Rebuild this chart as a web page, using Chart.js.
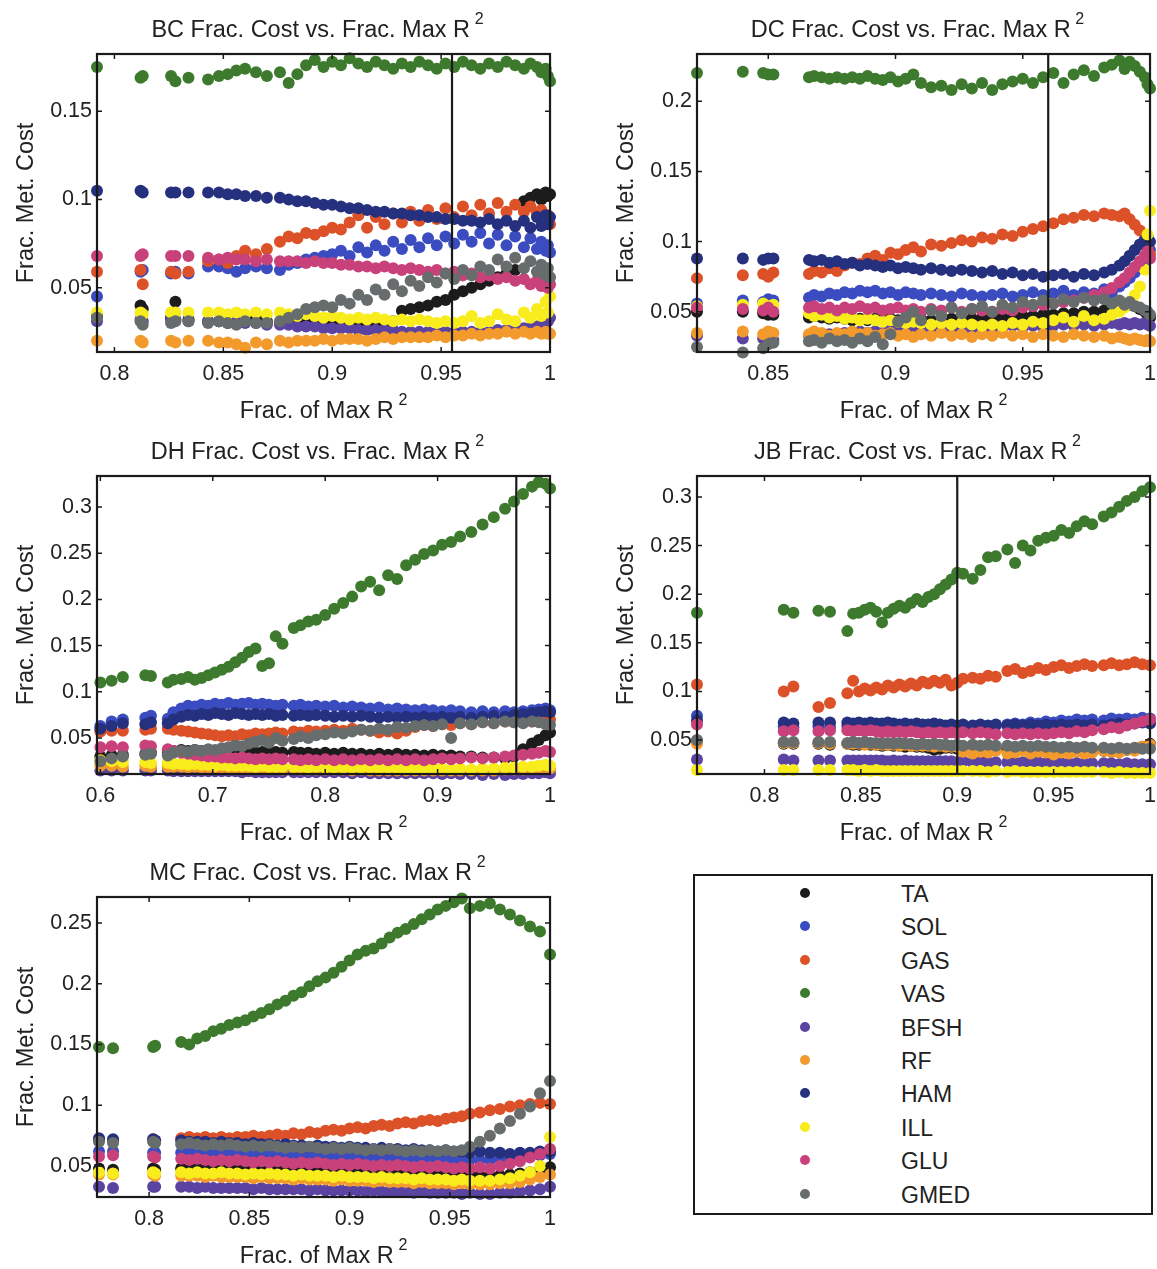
<!DOCTYPE html>
<html>
<head>
<meta charset="utf-8">
<title>Frac. Cost vs. Frac. Max R2</title>
<script src="https://cdn.jsdelivr.net/npm/chart.js@4.4.1/dist/chart.umd.min.js"></script>
<style>
    body { margin: 0; background: #fff; }
    #page {
        position: relative;
        width: 1157px;
        height: 1269px;
        overflow: hidden;
        font-family: "Liberation Sans", Arial, Helvetica, sans-serif;
        color: #222;
    }
    #page canvas { position: absolute; }
    .legend-box {
        position: absolute;
        left: 693px;
        top: 874px;
        width: 456px;
        height: 337px;
        border: 2px solid #1a1a1a;
        background: #fff;
    }
    .legend-dot {
        position: absolute;
        width: 10px;
        height: 10px;
        border-radius: 50%;
    }
    .legend-label {
        position: absolute;
        font-size: 23px;
        line-height: 23px;
        color: #222;
    }
</style>
</head>
<body>
<div id="page">
    <canvas id="bcChart"></canvas>
    <canvas id="dcChart"></canvas>
    <canvas id="dhChart"></canvas>
    <canvas id="jbChart"></canvas>
    <canvas id="mcChart"></canvas>
    <div class="legend-box" id="muscleLegend"></div>
</div>

<script>
// Muscles, in plotting order
const muscles = ['TA', 'SOL', 'GAS', 'VAS', 'BFSH', 'RF', 'HAM', 'ILL', 'GLU', 'GMED'];
const muscleColors = ['#1c1c1c', '#3a4cc0', '#dc5128', '#3d7a2e', '#5b43a2', '#f39a2c', '#25307e', '#f8ec1c', '#c9417a', '#676c6c'];

// ---- BC ----
const bcR2 = [0.792, 0.812, 0.813, 0.826, 0.828, 0.834, 0.843, 0.848, 0.852, 0.856, 0.860, 0.865, 0.870, 0.876, 0.880, 0.884, 0.888, 0.892, 0.896, 0.900, 0.904, 0.908, 0.912, 0.916, 0.920, 0.924, 0.928, 0.932, 0.936, 0.940, 0.944, 0.948, 0.952, 0.956, 0.960, 0.964, 0.968, 0.972, 0.976, 0.980, 0.984, 0.988, 0.991, 0.994, 0.996, 0.998, 0.999, 1.000];
const bcTA   = [0.034, 0.040, 0.038, 0.033, 0.042, 0.032, 0.031, 0.031, 0.031, 0.030, 0.032, 0.033, 0.031, 0.030, 0.030, 0.030, 0.030, 0.029, 0.029, 0.029, 0.029, 0.029, 0.029, 0.029, 0.030, 0.030, 0.031, 0.037, 0.038, 0.039, 0.040, 0.042, 0.043, 0.046, 0.048, 0.050, 0.052, 0.054, 0.056, 0.058, 0.060, 0.099, 0.101, 0.103, 0.100, 0.104, 0.102, 0.103];
const bcSOL  = [0.045, 0.059, 0.060, 0.058, 0.059, 0.058, 0.062, 0.062, 0.061, 0.059, 0.061, 0.062, 0.061, 0.060, 0.063, 0.064, 0.066, 0.067, 0.068, 0.069, 0.071, 0.068, 0.073, 0.070, 0.074, 0.071, 0.076, 0.072, 0.077, 0.073, 0.078, 0.074, 0.079, 0.075, 0.080, 0.076, 0.081, 0.075, 0.080, 0.074, 0.079, 0.073, 0.078, 0.072, 0.076, 0.071, 0.074, 0.070];
const bcGAS  = [0.059, 0.060, 0.052, 0.059, 0.058, 0.059, 0.065, 0.066, 0.064, 0.068, 0.071, 0.069, 0.072, 0.076, 0.079, 0.078, 0.081, 0.080, 0.082, 0.084, 0.083, 0.087, 0.091, 0.084, 0.090, 0.086, 0.092, 0.087, 0.093, 0.088, 0.094, 0.089, 0.095, 0.090, 0.096, 0.091, 0.097, 0.092, 0.098, 0.093, 0.097, 0.093, 0.096, 0.092, 0.094, 0.089, 0.091, 0.086];
const bcVAS  = [0.175, 0.169, 0.170, 0.170, 0.167, 0.169, 0.168, 0.170, 0.171, 0.173, 0.174, 0.172, 0.170, 0.172, 0.166, 0.171, 0.176, 0.179, 0.175, 0.178, 0.176, 0.180, 0.177, 0.175, 0.178, 0.176, 0.174, 0.177, 0.175, 0.178, 0.176, 0.174, 0.177, 0.175, 0.178, 0.176, 0.174, 0.177, 0.175, 0.178, 0.176, 0.174, 0.177, 0.175, 0.172, 0.174, 0.170, 0.167];
const bcBFSH = [0.031, 0.032, 0.031, 0.032, 0.032, 0.031, 0.031, 0.031, 0.030, 0.031, 0.030, 0.030, 0.029, 0.029, 0.029, 0.028, 0.028, 0.028, 0.027, 0.027, 0.027, 0.027, 0.026, 0.026, 0.026, 0.026, 0.026, 0.025, 0.025, 0.025, 0.025, 0.025, 0.025, 0.025, 0.025, 0.025, 0.025, 0.025, 0.026, 0.026, 0.026, 0.027, 0.027, 0.028, 0.029, 0.030, 0.031, 0.033];
const bcRF   = [0.020, 0.020, 0.019, 0.020, 0.019, 0.020, 0.020, 0.019, 0.019, 0.018, 0.016, 0.019, 0.018, 0.020, 0.019, 0.020, 0.020, 0.020, 0.021, 0.020, 0.021, 0.021, 0.021, 0.020, 0.021, 0.022, 0.021, 0.022, 0.022, 0.022, 0.022, 0.023, 0.022, 0.023, 0.023, 0.024, 0.023, 0.024, 0.024, 0.025, 0.024, 0.025, 0.024, 0.025, 0.024, 0.025, 0.024, 0.024];
const bcHAM  = [0.105, 0.105, 0.104, 0.104, 0.104, 0.104, 0.104, 0.104, 0.103, 0.103, 0.102, 0.102, 0.101, 0.101, 0.100, 0.099, 0.099, 0.098, 0.097, 0.097, 0.096, 0.095, 0.095, 0.094, 0.093, 0.093, 0.092, 0.092, 0.091, 0.091, 0.090, 0.090, 0.089, 0.089, 0.088, 0.088, 0.087, 0.089, 0.086, 0.088, 0.085, 0.088, 0.084, 0.090, 0.085, 0.091, 0.086, 0.090];
const bcILL  = [0.036, 0.036, 0.035, 0.036, 0.036, 0.036, 0.036, 0.036, 0.035, 0.036, 0.035, 0.036, 0.035, 0.036, 0.035, 0.034, 0.035, 0.034, 0.033, 0.034, 0.033, 0.032, 0.033, 0.032, 0.033, 0.032, 0.031, 0.032, 0.031, 0.032, 0.031, 0.030, 0.031, 0.030, 0.031, 0.034, 0.030, 0.031, 0.035, 0.032, 0.031, 0.036, 0.033, 0.038, 0.034, 0.042, 0.036, 0.045];
const bcGLU  = [0.068, 0.068, 0.069, 0.068, 0.068, 0.068, 0.067, 0.066, 0.067, 0.066, 0.066, 0.065, 0.066, 0.065, 0.065, 0.065, 0.064, 0.065, 0.064, 0.064, 0.063, 0.063, 0.062, 0.062, 0.061, 0.062, 0.061, 0.060, 0.061, 0.060, 0.059, 0.060, 0.058, 0.059, 0.057, 0.058, 0.056, 0.057, 0.055, 0.056, 0.054, 0.055, 0.052, 0.054, 0.051, 0.053, 0.050, 0.052];
const bcGMED = [0.033, 0.031, 0.029, 0.030, 0.031, 0.031, 0.030, 0.031, 0.030, 0.029, 0.031, 0.030, 0.030, 0.031, 0.033, 0.035, 0.038, 0.039, 0.040, 0.039, 0.043, 0.041, 0.046, 0.043, 0.049, 0.046, 0.052, 0.048, 0.054, 0.051, 0.056, 0.053, 0.058, 0.055, 0.060, 0.057, 0.062, 0.060, 0.066, 0.062, 0.067, 0.061, 0.065, 0.059, 0.063, 0.057, 0.061, 0.056];
const bcXTicks = [0.8, 0.85, 0.9, 0.95, 1];
const bcYTicks = [0.05, 0.1, 0.15];

// ---- DC ----
const dcR2 = [0.822, 0.840, 0.848, 0.850, 0.852, 0.866, 0.868, 0.871, 0.874, 0.877, 0.880, 0.883, 0.886, 0.889, 0.892, 0.895, 0.898, 0.901, 0.904, 0.907, 0.910, 0.914, 0.918, 0.922, 0.926, 0.930, 0.934, 0.938, 0.942, 0.946, 0.950, 0.954, 0.958, 0.962, 0.966, 0.970, 0.974, 0.978, 0.982, 0.985, 0.988, 0.990, 0.992, 0.994, 0.996, 0.998, 0.999, 1.000];
const dcTA   = [0.050, 0.050, 0.049, 0.048, 0.048, 0.046, 0.047, 0.046, 0.045, 0.046, 0.045, 0.044, 0.045, 0.044, 0.045, 0.044, 0.045, 0.044, 0.045, 0.044, 0.045, 0.044, 0.045, 0.045, 0.044, 0.045, 0.046, 0.045, 0.046, 0.046, 0.047, 0.047, 0.048, 0.048, 0.049, 0.049, 0.050, 0.050, 0.051, 0.052, 0.053, 0.054, 0.055, 0.054, 0.052, 0.050, 0.048, 0.046];
const dcSOL  = [0.056, 0.058, 0.057, 0.059, 0.058, 0.060, 0.062, 0.061, 0.063, 0.062, 0.064, 0.063, 0.065, 0.064, 0.065, 0.063, 0.064, 0.062, 0.064, 0.063, 0.062, 0.063, 0.062, 0.061, 0.063, 0.062, 0.061, 0.062, 0.063, 0.061, 0.062, 0.064, 0.062, 0.063, 0.065, 0.062, 0.064, 0.063, 0.066, 0.064, 0.068, 0.071, 0.074, 0.078, 0.082, 0.086, 0.090, 0.094];
const dcGAS  = [0.074, 0.076, 0.077, 0.075, 0.078, 0.077, 0.079, 0.078, 0.081, 0.079, 0.083, 0.085, 0.084, 0.088, 0.090, 0.087, 0.092, 0.091, 0.094, 0.096, 0.093, 0.098, 0.097, 0.099, 0.101, 0.100, 0.103, 0.102, 0.105, 0.104, 0.107, 0.109, 0.111, 0.113, 0.116, 0.117, 0.119, 0.118, 0.120, 0.119, 0.118, 0.120, 0.116, 0.112, 0.108, 0.102, 0.096, 0.091];
const dcVAS  = [0.220, 0.221, 0.220, 0.219, 0.219, 0.217, 0.218, 0.217, 0.216, 0.217, 0.216, 0.217, 0.216, 0.218, 0.216, 0.215, 0.217, 0.214, 0.216, 0.219, 0.213, 0.210, 0.211, 0.208, 0.212, 0.209, 0.213, 0.208, 0.212, 0.214, 0.216, 0.213, 0.217, 0.220, 0.213, 0.219, 0.222, 0.218, 0.224, 0.226, 0.229, 0.223, 0.228, 0.225, 0.221, 0.217, 0.212, 0.209];
const dcBFSH = [0.033, 0.031, 0.031, 0.032, 0.030, 0.033, 0.034, 0.032, 0.034, 0.033, 0.035, 0.034, 0.036, 0.035, 0.036, 0.035, 0.037, 0.036, 0.037, 0.036, 0.038, 0.037, 0.038, 0.037, 0.039, 0.038, 0.039, 0.038, 0.039, 0.040, 0.039, 0.040, 0.039, 0.040, 0.041, 0.040, 0.041, 0.040, 0.041, 0.042, 0.041, 0.042, 0.041, 0.042, 0.041, 0.042, 0.041, 0.040];
const dcRF   = [0.035, 0.036, 0.034, 0.036, 0.035, 0.034, 0.036, 0.035, 0.033, 0.035, 0.034, 0.036, 0.034, 0.035, 0.033, 0.034, 0.035, 0.033, 0.034, 0.032, 0.034, 0.033, 0.035, 0.033, 0.034, 0.032, 0.034, 0.033, 0.035, 0.033, 0.034, 0.032, 0.034, 0.033, 0.032, 0.034, 0.033, 0.032, 0.033, 0.031, 0.032, 0.031, 0.030, 0.031, 0.030, 0.029, 0.030, 0.029];
const dcHAM  = [0.088, 0.088, 0.087, 0.088, 0.088, 0.087, 0.086, 0.087, 0.085, 0.086, 0.084, 0.085, 0.083, 0.084, 0.083, 0.082, 0.083, 0.081, 0.082, 0.081, 0.080, 0.081, 0.080, 0.079, 0.080, 0.079, 0.078, 0.079, 0.077, 0.078, 0.076, 0.077, 0.075, 0.076, 0.077, 0.075, 0.077, 0.076, 0.078, 0.080, 0.083, 0.086, 0.090, 0.094, 0.098, 0.101, 0.104, 0.100];
const dcILL  = [0.054, 0.055, 0.056, 0.054, 0.055, 0.049, 0.047, 0.048, 0.046, 0.047, 0.045, 0.046, 0.044, 0.045, 0.044, 0.043, 0.044, 0.043, 0.042, 0.043, 0.042, 0.041, 0.042, 0.041, 0.042, 0.041, 0.040, 0.041, 0.040, 0.042, 0.041, 0.043, 0.042, 0.044, 0.046, 0.043, 0.047, 0.044, 0.045, 0.048, 0.050, 0.053, 0.057, 0.062, 0.068, 0.080, 0.105, 0.122];
const dcGLU  = [0.053, 0.052, 0.051, 0.053, 0.050, 0.053, 0.054, 0.052, 0.053, 0.051, 0.053, 0.052, 0.054, 0.052, 0.053, 0.051, 0.052, 0.053, 0.051, 0.052, 0.050, 0.052, 0.051, 0.053, 0.050, 0.052, 0.051, 0.050, 0.052, 0.051, 0.053, 0.054, 0.055, 0.056, 0.057, 0.058, 0.060, 0.062, 0.064, 0.067, 0.071, 0.074, 0.078, 0.082, 0.086, 0.090, 0.093, 0.088];
const dcGMED = [0.025, 0.021, 0.024, 0.027, 0.028, 0.029, 0.030, 0.028, 0.031, 0.029, 0.030, 0.028, 0.031, 0.029, 0.032, 0.027, 0.034, 0.043, 0.046, 0.050, 0.044, 0.051, 0.047, 0.053, 0.049, 0.052, 0.054, 0.050, 0.055, 0.053, 0.057, 0.055, 0.058, 0.056, 0.059, 0.057, 0.060, 0.058, 0.059, 0.056, 0.058, 0.055, 0.057, 0.054, 0.053, 0.051, 0.050, 0.048];
const dcXTicks = [0.85, 0.9, 0.95, 1];
const dcYTicks = [0.05, 0.1, 0.15, 0.2];

// ---- DH ----
const dhR2 = [0.600, 0.610, 0.620, 0.640, 0.645, 0.660, 0.665, 0.672, 0.678, 0.684, 0.690, 0.696, 0.702, 0.708, 0.714, 0.720, 0.726, 0.732, 0.738, 0.744, 0.750, 0.756, 0.762, 0.772, 0.778, 0.785, 0.792, 0.800, 0.808, 0.816, 0.824, 0.832, 0.840, 0.848, 0.856, 0.864, 0.872, 0.880, 0.888, 0.896, 0.904, 0.912, 0.920, 0.930, 0.940, 0.950, 0.960, 0.968, 0.976, 0.984, 0.990, 0.996, 1.000];
const dhTA   = [0.030, 0.031, 0.032, 0.033, 0.034, 0.035, 0.036, 0.037, 0.036, 0.037, 0.036, 0.036, 0.035, 0.036, 0.035, 0.035, 0.036, 0.035, 0.034, 0.035, 0.034, 0.035, 0.034, 0.035, 0.034, 0.034, 0.033, 0.034, 0.033, 0.034, 0.033, 0.033, 0.032, 0.033, 0.032, 0.033, 0.032, 0.032, 0.031, 0.032, 0.031, 0.031, 0.030, 0.030, 0.029, 0.029, 0.028, 0.030, 0.038, 0.044, 0.048, 0.053, 0.056];
const dhSOL  = [0.063, 0.068, 0.070, 0.072, 0.074, 0.071, 0.078, 0.082, 0.085, 0.084, 0.086, 0.085, 0.087, 0.086, 0.088, 0.086, 0.087, 0.088, 0.086, 0.087, 0.086, 0.085, 0.086, 0.085, 0.086, 0.084, 0.085, 0.084, 0.085, 0.083, 0.084, 0.083, 0.082, 0.083, 0.081, 0.082, 0.081, 0.080, 0.081, 0.080, 0.079, 0.080, 0.079, 0.078, 0.079, 0.078, 0.079, 0.078, 0.079, 0.080, 0.081, 0.082, 0.080];
const dhGAS  = [0.057, 0.058, 0.058, 0.059, 0.060, 0.060, 0.059, 0.058, 0.057, 0.056, 0.055, 0.054, 0.053, 0.052, 0.053, 0.052, 0.054, 0.053, 0.055, 0.054, 0.055, 0.056, 0.055, 0.057, 0.056, 0.058, 0.057, 0.058, 0.059, 0.058, 0.060, 0.059, 0.058, 0.056, 0.057, 0.055, 0.058, 0.062, 0.064, 0.063, 0.065, 0.064, 0.066, 0.065, 0.067, 0.066, 0.068, 0.067, 0.069, 0.068, 0.070, 0.069, 0.070];
const dhVAS  = [0.110, 0.112, 0.116, 0.118, 0.117, 0.110, 0.113, 0.114, 0.116, 0.113, 0.115, 0.118, 0.121, 0.124, 0.127, 0.132, 0.137, 0.143, 0.147, 0.128, 0.131, 0.160, 0.152, 0.169, 0.172, 0.176, 0.178, 0.183, 0.190, 0.196, 0.203, 0.214, 0.219, 0.210, 0.226, 0.222, 0.237, 0.243, 0.249, 0.253, 0.259, 0.262, 0.268, 0.273, 0.281, 0.289, 0.298, 0.306, 0.314, 0.322, 0.327, 0.325, 0.320];
const dhBFSH = [0.015, 0.015, 0.015, 0.015, 0.015, 0.015, 0.014, 0.014, 0.014, 0.014, 0.014, 0.014, 0.014, 0.014, 0.014, 0.014, 0.013, 0.014, 0.013, 0.013, 0.013, 0.013, 0.013, 0.013, 0.013, 0.013, 0.013, 0.013, 0.013, 0.013, 0.012, 0.013, 0.012, 0.012, 0.012, 0.012, 0.012, 0.012, 0.012, 0.012, 0.011, 0.012, 0.011, 0.011, 0.010, 0.011, 0.010, 0.011, 0.011, 0.012, 0.012, 0.013, 0.012];
const dhRF   = [0.020, 0.020, 0.019, 0.020, 0.019, 0.019, 0.019, 0.019, 0.018, 0.019, 0.018, 0.018, 0.018, 0.018, 0.018, 0.017, 0.018, 0.017, 0.017, 0.017, 0.017, 0.017, 0.016, 0.017, 0.016, 0.016, 0.016, 0.016, 0.016, 0.016, 0.015, 0.016, 0.015, 0.015, 0.015, 0.015, 0.015, 0.015, 0.015, 0.015, 0.015, 0.015, 0.015, 0.015, 0.015, 0.015, 0.016, 0.016, 0.016, 0.017, 0.017, 0.018, 0.017];
const dhHAM  = [0.060, 0.063, 0.066, 0.065, 0.067, 0.066, 0.070, 0.073, 0.075, 0.074, 0.076, 0.075, 0.077, 0.076, 0.075, 0.077, 0.076, 0.075, 0.076, 0.075, 0.076, 0.074, 0.075, 0.074, 0.075, 0.074, 0.075, 0.074, 0.073, 0.074, 0.073, 0.074, 0.073, 0.072, 0.073, 0.072, 0.073, 0.072, 0.073, 0.072, 0.073, 0.072, 0.073, 0.072, 0.073, 0.074, 0.073, 0.075, 0.076, 0.077, 0.078, 0.079, 0.078];
const dhILL  = [0.026, 0.025, 0.024, 0.024, 0.023, 0.023, 0.022, 0.022, 0.021, 0.022, 0.021, 0.021, 0.020, 0.021, 0.020, 0.020, 0.020, 0.020, 0.019, 0.020, 0.019, 0.019, 0.019, 0.019, 0.019, 0.018, 0.019, 0.018, 0.018, 0.018, 0.018, 0.018, 0.018, 0.017, 0.018, 0.017, 0.017, 0.017, 0.017, 0.017, 0.017, 0.016, 0.017, 0.016, 0.017, 0.017, 0.018, 0.018, 0.019, 0.019, 0.020, 0.021, 0.020];
const dhGLU  = [0.040, 0.041, 0.040, 0.042, 0.041, 0.038, 0.036, 0.034, 0.033, 0.032, 0.031, 0.030, 0.030, 0.029, 0.029, 0.028, 0.029, 0.028, 0.027, 0.028, 0.027, 0.028, 0.027, 0.027, 0.026, 0.027, 0.026, 0.027, 0.026, 0.027, 0.026, 0.027, 0.026, 0.027, 0.026, 0.027, 0.026, 0.027, 0.026, 0.027, 0.028, 0.027, 0.028, 0.029, 0.028, 0.029, 0.030, 0.031, 0.032, 0.033, 0.034, 0.036, 0.035];
const dhGMED = [0.025, 0.028, 0.030, 0.032, 0.033, 0.031, 0.034, 0.036, 0.035, 0.037, 0.036, 0.038, 0.037, 0.039, 0.040, 0.042, 0.041, 0.044, 0.046, 0.048, 0.045, 0.050, 0.047, 0.049, 0.052, 0.050, 0.053, 0.054, 0.056, 0.055, 0.057, 0.059, 0.058, 0.060, 0.059, 0.062, 0.061, 0.063, 0.064, 0.063, 0.065, 0.050, 0.066, 0.065, 0.067, 0.066, 0.068, 0.067, 0.066, 0.068, 0.067, 0.065, 0.064];
const dhXTicks = [0.6, 0.7, 0.8, 0.9, 1];
const dhYTicks = [0.05, 0.1, 0.15, 0.2, 0.25, 0.3];

// ---- JB ----
const jbR2 = [0.765, 0.810, 0.815, 0.828, 0.834, 0.843, 0.846, 0.849, 0.852, 0.855, 0.858, 0.861, 0.864, 0.867, 0.870, 0.873, 0.876, 0.879, 0.882, 0.885, 0.888, 0.891, 0.894, 0.897, 0.900, 0.903, 0.908, 0.912, 0.916, 0.920, 0.926, 0.930, 0.934, 0.938, 0.942, 0.946, 0.950, 0.954, 0.958, 0.962, 0.966, 0.970, 0.976, 0.980, 0.984, 0.988, 0.992, 0.996, 1.000];
const jbTA   = [0.049, 0.046, 0.046, 0.046, 0.045, 0.046, 0.045, 0.045, 0.046, 0.045, 0.045, 0.044, 0.045, 0.044, 0.044, 0.043, 0.044, 0.043, 0.043, 0.042, 0.040, 0.041, 0.042, 0.042, 0.041, 0.041, 0.040, 0.041, 0.040, 0.041, 0.040, 0.039, 0.040, 0.039, 0.038, 0.039, 0.038, 0.039, 0.037, 0.038, 0.039, 0.038, 0.039, 0.038, 0.039, 0.040, 0.041, 0.043, 0.046];
const jbSOL  = [0.075, 0.064, 0.063, 0.064, 0.063, 0.064, 0.063, 0.064, 0.063, 0.062, 0.063, 0.062, 0.063, 0.062, 0.063, 0.062, 0.061, 0.062, 0.061, 0.062, 0.061, 0.062, 0.061, 0.062, 0.061, 0.062, 0.063, 0.064, 0.063, 0.065, 0.066, 0.067, 0.066, 0.068, 0.067, 0.069, 0.068, 0.070, 0.069, 0.071, 0.070, 0.071, 0.070, 0.072, 0.071, 0.072, 0.071, 0.073, 0.072];
const jbGAS  = [0.107, 0.100, 0.105, 0.084, 0.088, 0.098, 0.111, 0.100, 0.103, 0.101, 0.104, 0.102, 0.106, 0.104, 0.107, 0.105, 0.108, 0.106, 0.110, 0.108, 0.111, 0.109, 0.112, 0.106, 0.109, 0.113, 0.114, 0.113, 0.116, 0.115, 0.121, 0.123, 0.119, 0.121, 0.124, 0.122, 0.125, 0.127, 0.124, 0.126, 0.128, 0.126, 0.127, 0.129, 0.127, 0.128, 0.130, 0.128, 0.127];
const jbVAS  = [0.181, 0.184, 0.181, 0.183, 0.182, 0.162, 0.180, 0.181, 0.184, 0.186, 0.182, 0.171, 0.181, 0.185, 0.188, 0.186, 0.191, 0.195, 0.192, 0.197, 0.200, 0.205, 0.210, 0.215, 0.222, 0.221, 0.216, 0.225, 0.238, 0.239, 0.246, 0.232, 0.250, 0.245, 0.255, 0.258, 0.260, 0.266, 0.263, 0.270, 0.275, 0.272, 0.280, 0.284, 0.290, 0.296, 0.300, 0.306, 0.310];
const jbBFSH = [0.030, 0.030, 0.029, 0.029, 0.029, 0.029, 0.029, 0.029, 0.029, 0.029, 0.029, 0.029, 0.028, 0.029, 0.028, 0.029, 0.028, 0.028, 0.028, 0.028, 0.028, 0.028, 0.028, 0.028, 0.027, 0.028, 0.027, 0.028, 0.027, 0.027, 0.027, 0.027, 0.027, 0.027, 0.027, 0.026, 0.027, 0.026, 0.026, 0.026, 0.026, 0.026, 0.026, 0.026, 0.025, 0.026, 0.025, 0.025, 0.025];
const jbRF   = [0.046, 0.047, 0.047, 0.047, 0.046, 0.046, 0.046, 0.046, 0.045, 0.046, 0.045, 0.045, 0.045, 0.045, 0.044, 0.045, 0.044, 0.044, 0.044, 0.044, 0.043, 0.044, 0.043, 0.043, 0.043, 0.038, 0.036, 0.038, 0.037, 0.039, 0.036, 0.037, 0.039, 0.036, 0.038, 0.037, 0.035, 0.037, 0.036, 0.038, 0.036, 0.037, 0.039, 0.038, 0.037, 0.040, 0.039, 0.043, 0.045];
const jbHAM  = [0.070, 0.068, 0.067, 0.068, 0.068, 0.068, 0.067, 0.068, 0.067, 0.068, 0.067, 0.067, 0.068, 0.067, 0.066, 0.067, 0.066, 0.067, 0.066, 0.066, 0.067, 0.066, 0.065, 0.066, 0.065, 0.066, 0.065, 0.066, 0.065, 0.066, 0.065, 0.066, 0.065, 0.066, 0.065, 0.066, 0.065, 0.066, 0.065, 0.066, 0.065, 0.066, 0.065, 0.066, 0.067, 0.066, 0.067, 0.068, 0.067];
const jbILL  = [0.019, 0.019, 0.019, 0.019, 0.019, 0.019, 0.019, 0.018, 0.019, 0.018, 0.019, 0.018, 0.018, 0.018, 0.018, 0.018, 0.018, 0.018, 0.018, 0.018, 0.018, 0.018, 0.018, 0.018, 0.018, 0.018, 0.018, 0.018, 0.017, 0.018, 0.017, 0.018, 0.017, 0.017, 0.017, 0.017, 0.017, 0.017, 0.017, 0.017, 0.017, 0.017, 0.017, 0.016, 0.017, 0.016, 0.016, 0.016, 0.016];
const jbGLU  = [0.066, 0.059, 0.060, 0.059, 0.060, 0.060, 0.059, 0.060, 0.059, 0.060, 0.059, 0.058, 0.059, 0.058, 0.059, 0.058, 0.059, 0.058, 0.057, 0.058, 0.057, 0.058, 0.057, 0.058, 0.057, 0.058, 0.057, 0.058, 0.057, 0.056, 0.057, 0.056, 0.057, 0.056, 0.057, 0.056, 0.057, 0.058, 0.057, 0.059, 0.058, 0.060, 0.061, 0.063, 0.062, 0.065, 0.067, 0.069, 0.071];
const jbGMED = [0.050, 0.048, 0.048, 0.048, 0.048, 0.047, 0.048, 0.047, 0.048, 0.047, 0.047, 0.046, 0.047, 0.046, 0.047, 0.046, 0.046, 0.045, 0.046, 0.045, 0.046, 0.045, 0.045, 0.044, 0.045, 0.044, 0.045, 0.044, 0.045, 0.044, 0.044, 0.043, 0.044, 0.043, 0.044, 0.043, 0.043, 0.042, 0.043, 0.042, 0.043, 0.042, 0.042, 0.041, 0.042, 0.041, 0.042, 0.041, 0.041];
const jbXTicks = [0.8, 0.85, 0.9, 0.95, 1];
const jbYTicks = [0.05, 0.1, 0.15, 0.2, 0.25, 0.3];

// ---- MC ----
const mcR2 = [0.775, 0.782, 0.802, 0.803, 0.816, 0.820, 0.824, 0.828, 0.832, 0.836, 0.840, 0.844, 0.848, 0.852, 0.856, 0.860, 0.864, 0.868, 0.872, 0.876, 0.880, 0.884, 0.888, 0.892, 0.896, 0.900, 0.904, 0.908, 0.912, 0.916, 0.920, 0.924, 0.928, 0.932, 0.936, 0.940, 0.944, 0.948, 0.952, 0.956, 0.960, 0.965, 0.970, 0.975, 0.980, 0.985, 0.990, 0.995, 1.000];
const mcTA   = [0.048, 0.047, 0.048, 0.047, 0.048, 0.047, 0.048, 0.047, 0.047, 0.048, 0.047, 0.047, 0.047, 0.046, 0.047, 0.046, 0.047, 0.046, 0.046, 0.046, 0.046, 0.045, 0.046, 0.045, 0.045, 0.045, 0.045, 0.044, 0.045, 0.044, 0.044, 0.044, 0.044, 0.043, 0.044, 0.043, 0.043, 0.043, 0.043, 0.042, 0.043, 0.042, 0.042, 0.042, 0.043, 0.044, 0.045, 0.047, 0.049];
const mcSOL  = [0.062, 0.062, 0.061, 0.061, 0.061, 0.061, 0.060, 0.061, 0.060, 0.060, 0.060, 0.060, 0.059, 0.060, 0.059, 0.059, 0.059, 0.059, 0.058, 0.059, 0.058, 0.058, 0.058, 0.058, 0.057, 0.058, 0.057, 0.057, 0.057, 0.057, 0.056, 0.057, 0.056, 0.056, 0.056, 0.056, 0.055, 0.056, 0.055, 0.055, 0.055, 0.055, 0.055, 0.056, 0.056, 0.057, 0.058, 0.059, 0.060];
const mcGAS  = [0.072, 0.071, 0.072, 0.071, 0.073, 0.074, 0.073, 0.074, 0.073, 0.074, 0.073, 0.074, 0.074, 0.075, 0.074, 0.075, 0.076, 0.075, 0.077, 0.076, 0.078, 0.077, 0.079, 0.080, 0.079, 0.081, 0.082, 0.081, 0.083, 0.084, 0.083, 0.085, 0.086, 0.085, 0.087, 0.088, 0.087, 0.089, 0.090, 0.091, 0.093, 0.094, 0.096, 0.097, 0.099, 0.100, 0.101, 0.102, 0.101];
const mcVAS  = [0.148, 0.147, 0.148, 0.149, 0.152, 0.150, 0.155, 0.157, 0.161, 0.163, 0.166, 0.168, 0.170, 0.173, 0.176, 0.179, 0.183, 0.186, 0.190, 0.193, 0.198, 0.202, 0.205, 0.209, 0.214, 0.219, 0.224, 0.227, 0.229, 0.233, 0.238, 0.242, 0.245, 0.249, 0.253, 0.257, 0.261, 0.264, 0.267, 0.270, 0.262, 0.264, 0.266, 0.261, 0.257, 0.252, 0.247, 0.243, 0.224];
const mcBFSH = [0.033, 0.032, 0.033, 0.033, 0.033, 0.033, 0.032, 0.033, 0.032, 0.032, 0.032, 0.032, 0.032, 0.031, 0.032, 0.031, 0.031, 0.031, 0.031, 0.031, 0.030, 0.031, 0.030, 0.030, 0.030, 0.030, 0.030, 0.029, 0.030, 0.029, 0.029, 0.029, 0.029, 0.028, 0.029, 0.028, 0.028, 0.028, 0.028, 0.027, 0.028, 0.027, 0.027, 0.028, 0.028, 0.029, 0.030, 0.031, 0.033];
const mcRF   = [0.043, 0.043, 0.043, 0.042, 0.042, 0.042, 0.042, 0.041, 0.042, 0.041, 0.041, 0.041, 0.041, 0.040, 0.041, 0.040, 0.040, 0.040, 0.039, 0.040, 0.039, 0.039, 0.039, 0.038, 0.039, 0.038, 0.038, 0.038, 0.037, 0.038, 0.037, 0.037, 0.037, 0.036, 0.037, 0.036, 0.036, 0.036, 0.035, 0.036, 0.035, 0.035, 0.035, 0.036, 0.036, 0.037, 0.039, 0.041, 0.043];
const mcHAM  = [0.073, 0.072, 0.072, 0.071, 0.071, 0.070, 0.070, 0.070, 0.069, 0.070, 0.069, 0.069, 0.068, 0.069, 0.068, 0.068, 0.067, 0.068, 0.067, 0.067, 0.066, 0.067, 0.066, 0.066, 0.065, 0.066, 0.065, 0.065, 0.064, 0.065, 0.064, 0.064, 0.063, 0.064, 0.063, 0.063, 0.062, 0.063, 0.062, 0.062, 0.061, 0.062, 0.061, 0.061, 0.060, 0.061, 0.061, 0.062, 0.062];
const mcILL  = [0.045, 0.044, 0.045, 0.044, 0.045, 0.044, 0.045, 0.044, 0.044, 0.045, 0.044, 0.044, 0.043, 0.044, 0.043, 0.044, 0.043, 0.043, 0.042, 0.043, 0.042, 0.042, 0.042, 0.041, 0.042, 0.041, 0.041, 0.041, 0.040, 0.041, 0.040, 0.040, 0.040, 0.039, 0.040, 0.039, 0.039, 0.039, 0.038, 0.039, 0.038, 0.038, 0.038, 0.039, 0.040, 0.042, 0.045, 0.050, 0.074];
const mcGLU  = [0.058, 0.059, 0.058, 0.057, 0.056, 0.055, 0.056, 0.055, 0.054, 0.055, 0.054, 0.055, 0.054, 0.053, 0.054, 0.053, 0.054, 0.053, 0.052, 0.053, 0.052, 0.053, 0.052, 0.051, 0.052, 0.051, 0.052, 0.051, 0.050, 0.051, 0.050, 0.051, 0.050, 0.049, 0.050, 0.049, 0.050, 0.049, 0.048, 0.049, 0.048, 0.049, 0.048, 0.050, 0.052, 0.054, 0.057, 0.060, 0.064];
const mcGMED = [0.070, 0.069, 0.070, 0.069, 0.068, 0.069, 0.068, 0.067, 0.068, 0.067, 0.068, 0.067, 0.066, 0.067, 0.066, 0.067, 0.066, 0.065, 0.066, 0.065, 0.066, 0.065, 0.064, 0.065, 0.064, 0.065, 0.064, 0.063, 0.064, 0.063, 0.064, 0.063, 0.062, 0.063, 0.062, 0.063, 0.062, 0.063, 0.062, 0.063, 0.066, 0.070, 0.075, 0.081, 0.087, 0.093, 0.099, 0.110, 0.120];
const mcXTicks = [0.8, 0.85, 0.9, 0.95, 1];
const mcYTicks = [0.05, 0.1, 0.15, 0.2, 0.25];

// ---- panel setup ----
const FONT = '"Liberation Sans", Arial, Helvetica, sans-serif';
const INK = '#1a1a1a';
const PAD = { left: 97, top: 54, right: 14, bottom: 78 };

const panels = [
    { id: 'bcChart', subject: 'BC', box: [97, 54, 454, 298],  x: [0.792, 1.0], y: [0.0136, 0.1824], cutoff: 0.955,
      r2: bcR2, series: [bcTA, bcSOL, bcGAS, bcVAS, bcBFSH, bcRF, bcHAM, bcILL, bcGLU, bcGMED], xTicks: bcXTicks, yTicks: bcYTicks },
    { id: 'dcChart', subject: 'DC', box: [697, 54, 454, 298], x: [0.822, 1.0], y: [0.0214, 0.2336], cutoff: 0.96,
      r2: dcR2, series: [dcTA, dcSOL, dcGAS, dcVAS, dcBFSH, dcRF, dcHAM, dcILL, dcGLU, dcGMED], xTicks: dcXTicks, yTicks: dcYTicks },
    { id: 'dhChart', subject: 'DH', box: [97, 476, 454, 298], x: [0.597, 1.0], y: [0.0111, 0.3335], cutoff: 0.97,
      r2: dhR2, series: [dhTA, dhSOL, dhGAS, dhVAS, dhBFSH, dhRF, dhHAM, dhILL, dhGLU, dhGMED], xTicks: dhXTicks, yTicks: dhYTicks },
    { id: 'jbChart', subject: 'JB', box: [697, 476, 454, 298], x: [0.765, 1.0], y: [0.015, 0.3216], cutoff: 0.9,
      r2: jbR2, series: [jbTA, jbSOL, jbGAS, jbVAS, jbBFSH, jbRF, jbHAM, jbILL, jbGLU, jbGMED], xTicks: jbXTicks, yTicks: jbYTicks },
    { id: 'mcChart', subject: 'MC', box: [97, 897, 454, 300], x: [0.774, 1.0], y: [0.0246, 0.2713], cutoff: 0.96,
      r2: mcR2, series: [mcTA, mcSOL, mcGAS, mcVAS, mcBFSH, mcRF, mcHAM, mcILL, mcGLU, mcGMED], xTicks: mcXTicks, yTicks: mcYTicks }
];

// MATLAB-style tick text: 0.8, 0.85, 1
const tickText = v => String(Number(v.toFixed(3)));

// text with a raised "2" after it, centred on cx
function drawWithSquare(ctx, text, cx, baseline, size) {
    ctx.font = `${size}px ${FONT}`;
    const wMain = ctx.measureText(text).width;
    const supSize = Math.round(size * 0.66);
    ctx.font = `${supSize}px ${FONT}`;
    const wSup = ctx.measureText('2').width;
    const gap = size * 0.2;
    const start = cx - (wMain + gap + wSup) / 2;
    ctx.textAlign = 'left';
    ctx.textBaseline = 'alphabetic';
    ctx.font = `${size}px ${FONT}`;
    ctx.fillText(text, start, baseline);
    ctx.font = `${supSize}px ${FONT}`;
    ctx.fillText('2', start + wMain + gap, baseline - size * 0.55);
}

const axesFrame = {
    id: 'axesFrame',
    afterDatasetsDraw(chart, args, opts) {
        const { ctx, chartArea: a, scales: { x, y } } = chart;
        ctx.save();
        ctx.strokeStyle = INK;
        ctx.fillStyle = '#222';

        // cutoff marker
        ctx.lineWidth = 2.2;
        const cx = x.getPixelForValue(opts.cutoff);
        ctx.beginPath();
        ctx.moveTo(cx, a.top);
        ctx.lineTo(cx, a.bottom);
        ctx.stroke();

        // box
        ctx.strokeRect(a.left, a.top, a.right - a.left, a.bottom - a.top);

        // inward ticks on all four sides
        ctx.lineWidth = 1.5;
        ctx.beginPath();
        x.ticks.forEach(t => {
            const px = x.getPixelForValue(t.value);
            ctx.moveTo(px, a.bottom); ctx.lineTo(px, a.bottom - 5);
            ctx.moveTo(px, a.top); ctx.lineTo(px, a.top + 5);
        });
        y.ticks.forEach(t => {
            const py = y.getPixelForValue(t.value);
            ctx.moveTo(a.left, py); ctx.lineTo(a.left + 5, py);
            ctx.moveTo(a.right, py); ctx.lineTo(a.right - 5, py);
        });
        ctx.stroke();

        // titles
        const mid = (a.left + a.right) / 2;
        drawWithSquare(ctx, `${opts.subject} Frac. Cost vs. Frac. Max R`, mid - 6, a.top - 17, 23.5);
        drawWithSquare(ctx, 'Frac. of Max R', mid, a.bottom + 66, 23.5);

        ctx.save();
        ctx.translate(a.left - 64, (a.top + a.bottom) / 2);
        ctx.rotate(-Math.PI / 2);
        ctx.font = `23.5px ${FONT}`;
        ctx.textAlign = 'center';
        ctx.textBaseline = 'alphabetic';
        ctx.fillText('Frac. Met. Cost', 0, 0);
        ctx.restore();

        ctx.restore();
    }
};

function buildPanel(p) {
    const [left, top, w, h] = p.box;
    const canvas = document.getElementById(p.id);
    canvas.width = w + PAD.left + PAD.right;
    canvas.height = h + PAD.top + PAD.bottom;
    canvas.style.left = (left - PAD.left) + 'px';
    canvas.style.top = (top - PAD.top) + 'px';

    const datasets = muscles.map((name, i) => ({
        label: name,
        data: p.r2.map((r, k) => ({ x: r, y: p.series[i][k] })),
        backgroundColor: muscleColors[i],
        pointRadius: 6,
        pointBorderWidth: 0,
        clip: false,
        order: muscles.length - i
    }));

    return new Chart(canvas, {
        type: 'scatter',
        data: { datasets },
        options: {
            responsive: false,
            animation: false,
            events: [],
            devicePixelRatio: 1,
            layout: { padding: { top: PAD.top, right: PAD.right, left: 0, bottom: 0 } },
            scales: {
                x: {
                    type: 'linear',
                    min: p.x[0],
                    max: p.x[1],
                    afterBuildTicks: s => { s.ticks = p.xTicks.map(v => ({ value: v })); },
                    afterFit: s => { s.height = PAD.bottom; },
                    grid: { display: false, drawTicks: false },
                    border: { display: false },
                    ticks: {
                        autoSkip: false, maxRotation: 0, minRotation: 0, padding: 9,
                        color: '#222', font: { family: FONT, size: 21.5 },
                        callback: v => tickText(v)
                    }
                },
                y: {
                    type: 'linear',
                    min: p.y[0],
                    max: p.y[1],
                    afterBuildTicks: s => { s.ticks = p.yTicks.map(v => ({ value: v })); },
                    afterFit: s => { s.width = PAD.left; },
                    grid: { display: false, drawTicks: false },
                    border: { display: false },
                    ticks: {
                        autoSkip: false, padding: 5,
                        color: '#222', font: { family: FONT, size: 21.5 },
                        callback: v => tickText(v)
                    }
                }
            },
            plugins: {
                legend: { display: false },
                tooltip: { enabled: false },
                axesFrame: { subject: p.subject, cutoff: p.cutoff }
            }
        },
        plugins: [axesFrame]
    });
}

function buildLegend() {
    const box = document.getElementById('muscleLegend');
    muscles.forEach((name, i) => {
        const cy = 17 + i * 33.4;
        const dot = document.createElement('span');
        dot.className = 'legend-dot';
        dot.style.background = muscleColors[i];
        dot.style.left = (110 - 5) + 'px';
        dot.style.top = (cy - 5) + 'px';
        const label = document.createElement('span');
        label.className = 'legend-label';
        label.textContent = name;
        label.style.left = '206px';
        label.style.top = (cy - 10) + 'px';
        box.appendChild(dot);
        box.appendChild(label);
    });
}

panels.forEach(buildPanel);
buildLegend();
</script>
</body>
</html>
